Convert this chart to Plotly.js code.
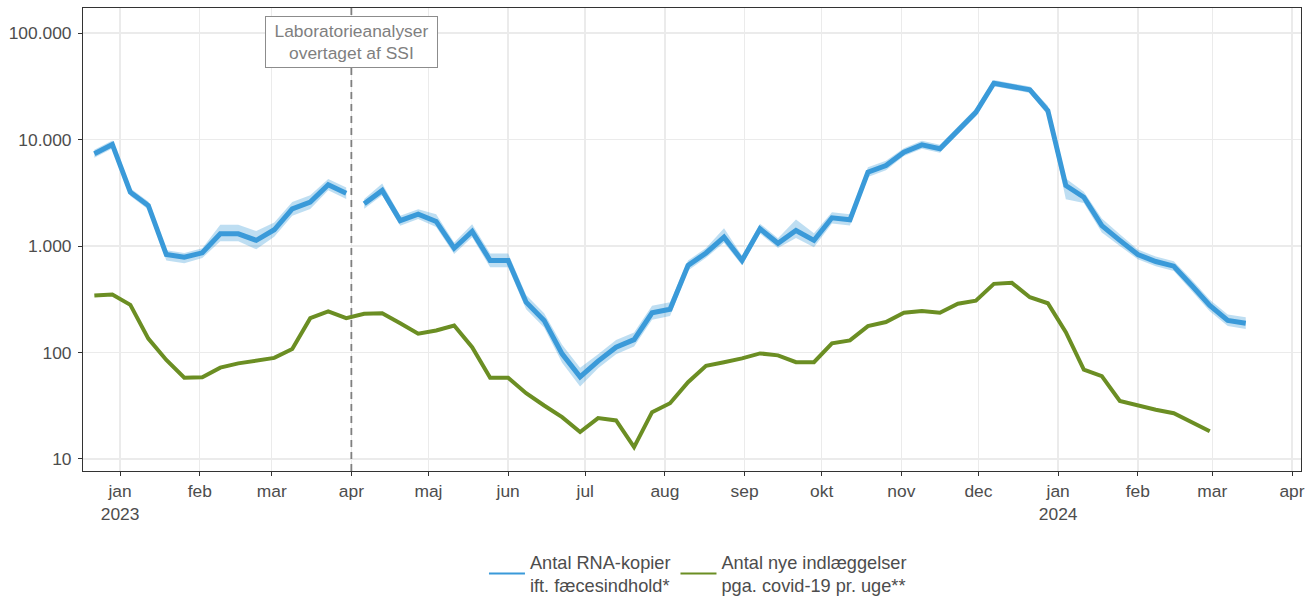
<!DOCTYPE html>
<html>
<head>
<meta charset="utf-8">
<script src="https://cdn.plot.ly/plotly-3.0.1.min.js"></script>
<style>
  html, body { margin: 0; padding: 0; background: #fff; }
  #chart { width: 1305px; height: 596px; }
</style>
</head>
<body>
<div id="chart"></div>
<script>
// ugentlige datoer (torsdag i hver uge)
const weeks = [
  '2022-12-22','2022-12-29','2023-01-05','2023-01-12','2023-01-19','2023-01-26',
  '2023-02-02','2023-02-09','2023-02-16','2023-02-23','2023-03-02','2023-03-09',
  '2023-03-16','2023-03-23','2023-03-30','2023-04-06','2023-04-13','2023-04-20',
  '2023-04-27','2023-05-04','2023-05-11','2023-05-18','2023-05-25','2023-06-01',
  '2023-06-08','2023-06-15','2023-06-22','2023-06-29','2023-07-06','2023-07-13',
  '2023-07-20','2023-07-27','2023-08-03','2023-08-10','2023-08-17','2023-08-24',
  '2023-08-31','2023-09-07','2023-09-14','2023-09-21','2023-09-28','2023-10-05',
  '2023-10-12','2023-10-19','2023-10-26','2023-11-02','2023-11-09','2023-11-16',
  '2023-11-23','2023-11-30','2023-12-07','2023-12-14','2023-12-21','2023-12-28',
  '2024-01-04','2024-01-11','2024-01-18','2024-01-25','2024-02-01','2024-02-08',
  '2024-02-15','2024-02-22','2024-02-29','2024-03-07','2024-03-14'
];

// RNA-kopier ift. fæcesindhold
const rna = [
  7350, 8980, 3200, 2400, 832, 785, 863, 1300, 1300, 1130, 1420, 2230,
  2580, 3760, 3130, 2490, 3320, 1730, 1990, 1700, 953, 1370, 731, 731,
  297, 200, 97, 59, 83, 112, 132, 236, 255, 656, 860, 1210,
  731, 1450, 1060, 1400, 1130, 1840, 1760, 4930, 5700, 7600, 8910, 8180,
  12150, 18000, 33800, 31450, 29300, 18700, 3700, 2870, 1555, 1130, 832, 715,
  646, 425, 276, 200, 188
];
const rnaLow = [
  6750, 8250, 2940, 2200, 730, 690, 770, 1110, 1110, 930, 1220, 1920,
  2220, 3330, 2770, 2240, 3000, 1550, 1790, 1510, 840, 1210, 630, 630,
  255, 172, 80, 48, 71, 96, 114, 203, 220, 590, 775, 1070,
  660, 1310, 955, 1190, 975, 1630, 1560, 4450, 5150, 7000, 8200, 7520,
  11200, 16600, 31700, 29500, 27400, 16900, 2750, 2540, 1340, 1000, 750, 645,
  582, 377, 244, 177, 166
];
const rnaHigh = [
  8000, 9780, 3490, 2620, 910, 860, 950, 1580, 1580, 1380, 1660, 2590,
  3000, 4250, 3540, 2770, 3860, 1920, 2210, 1990, 1080, 1600, 850, 850,
  346, 233, 118, 72, 96, 131, 154, 274, 297, 730, 955, 1470,
  812, 1620, 1180, 1770, 1320, 2080, 1990, 5480, 6330, 8300, 9720, 8920,
  13250, 19650, 36200, 33700, 31400, 20800, 4300, 3240, 1810, 1290, 925, 795,
  718, 481, 312, 227, 214
];

// nye indlæggelser pga. covid-19 pr. uge
const admissions = [
  343, 351, 280, 135, 85, 58, 58.6, 72, 79, 84, 89, 108,
  210, 243, 210, 231, 234, 188, 150, 161, 179, 112, 58, 58,
  41.5, 31.8, 24.7, 17.9, 24.2, 23, 12.9, 27.5, 33.4, 52.6, 75, 81,
  88, 98, 94, 81, 81, 122, 130, 177, 193, 236, 245, 236,
  287, 307, 441, 451, 330, 290, 155, 69, 60, 35, 31.8, 29,
  26.9, 22.2, 18.2
];

// skift af laboratorie mellem uge 14 og 15
const splitAt = 15;

const monthTicks = [
  '2023-01-01','2023-02-01','2023-03-01','2023-04-01','2023-05-01','2023-06-01',
  '2023-07-01','2023-08-01','2023-09-01','2023-10-01','2023-11-01','2023-12-01',
  '2024-01-01','2024-02-01','2024-03-01','2024-04-01'
];
const monthLabels = [
  'jan<br>2023','feb','mar','apr','maj','jun','jul','aug','sep','okt','nov','dec',
  'jan<br>2024','feb','mar','apr'
];

const yTicks = [10, 100, 1000, 10000, 100000];
const yLabels = ['10', '100', '1.000', '10.000', '100.000'];

const blue = '#3a9ad9';
const green = '#6b8e23';
const ribbon = 'rgba(58,154,217,0.33)';

function blueSegment(from, to) {
  const x = weeks.slice(from, to);
  return [
    { x: x, y: rnaLow.slice(from, to), mode: 'lines', line: { width: 0, color: ribbon },
      hoverinfo: 'skip', showlegend: false },
    { x: x, y: rnaHigh.slice(from, to), mode: 'lines', line: { width: 0, color: ribbon },
      fill: 'tonexty', fillcolor: ribbon, hoverinfo: 'skip', showlegend: false },
    { x: x, y: rna.slice(from, to), mode: 'lines', line: { color: blue, width: 5 },
      showlegend: false }
  ];
}

const data = [
  ...blueSegment(0, splitAt),
  ...blueSegment(splitAt, rna.length),
  { x: weeks.slice(0, admissions.length), y: admissions, mode: 'lines',
    line: { color: green, width: 4 }, showlegend: false },
  // legend entries (thin lines like the original)
  { x: [null], y: [null], mode: 'lines', line: { color: blue, width: 2 },
    name: 'Antal RNA-kopier<br>ift. fæcesindhold*' },
  { x: [null], y: [null], mode: 'lines', line: { color: green, width: 2 },
    name: 'Antal nye indlæggelser<br>pga. covid-19 pr. uge**' }
];

const axisCommon = {
  showgrid: true,
  gridcolor: '#ebebeb',
  gridwidth: 1.5,
  showline: true,
  linecolor: '#333333',
  linewidth: 1,
  mirror: true,
  ticks: 'outside',
  ticklen: 4,
  tickcolor: '#333333',
  tickfont: { size: 17.4, color: '#4d4d4d' },
  zeroline: false
};

const layout = {
  width: 1305,
  height: 596,
  margin: { l: 83, r: 4, t: 8, b: 125, autoexpand: false },
  paper_bgcolor: '#ffffff',
  plot_bgcolor: '#ffffff',
  font: { family: 'Liberation Sans, Arial, sans-serif', color: '#4d4d4d' },
  xaxis: Object.assign({}, axisCommon, {
    type: 'date',
    range: ['2022-12-17 14:00', '2024-04-04 12:00'],
    tickvals: monthTicks,
    ticktext: monthLabels
  }),
  yaxis: Object.assign({}, axisCommon, {
    type: 'log',
    range: [0.887, 5.235],
    tickvals: yTicks,
    ticktext: yLabels,
    ticklabelstandoff: 3
  }),
  shapes: [{
    type: 'line', xref: 'x', yref: 'paper',
    x0: '2023-04-01', x1: '2023-04-01', y0: 0, y1: 1,
    line: { color: '#7f7f7f', width: 1.8, dash: '7px,5px' },
    layer: 'above'
  }],
  annotations: [{
    x: '2023-04-01', xref: 'x', y: 0.9276, yref: 'paper',
    xanchor: 'center', yanchor: 'middle',
    text: 'Laboratorieanalyser<br>overtaget af SSI',
    showarrow: false,
    font: { size: 17.4, color: '#7f7f7f' },
    width: 165,
    height: 44,
    bgcolor: '#ffffff',
    bordercolor: '#8c8c8c',
    borderwidth: 1,
    borderpad: 3
  }],
  showlegend: true,
  legend: {
    orientation: 'h',
    traceorder: 'normal',
    x: 0.3292, xanchor: 'left',
    y: -0.222, yanchor: 'middle',
    font: { size: 18.2, color: '#4d4d4d' },
    itemwidth: 36
  }
};

Plotly.newPlot('chart', data, layout, { displayModeBar: false, staticPlot: true });
</script>
</body>
</html>
